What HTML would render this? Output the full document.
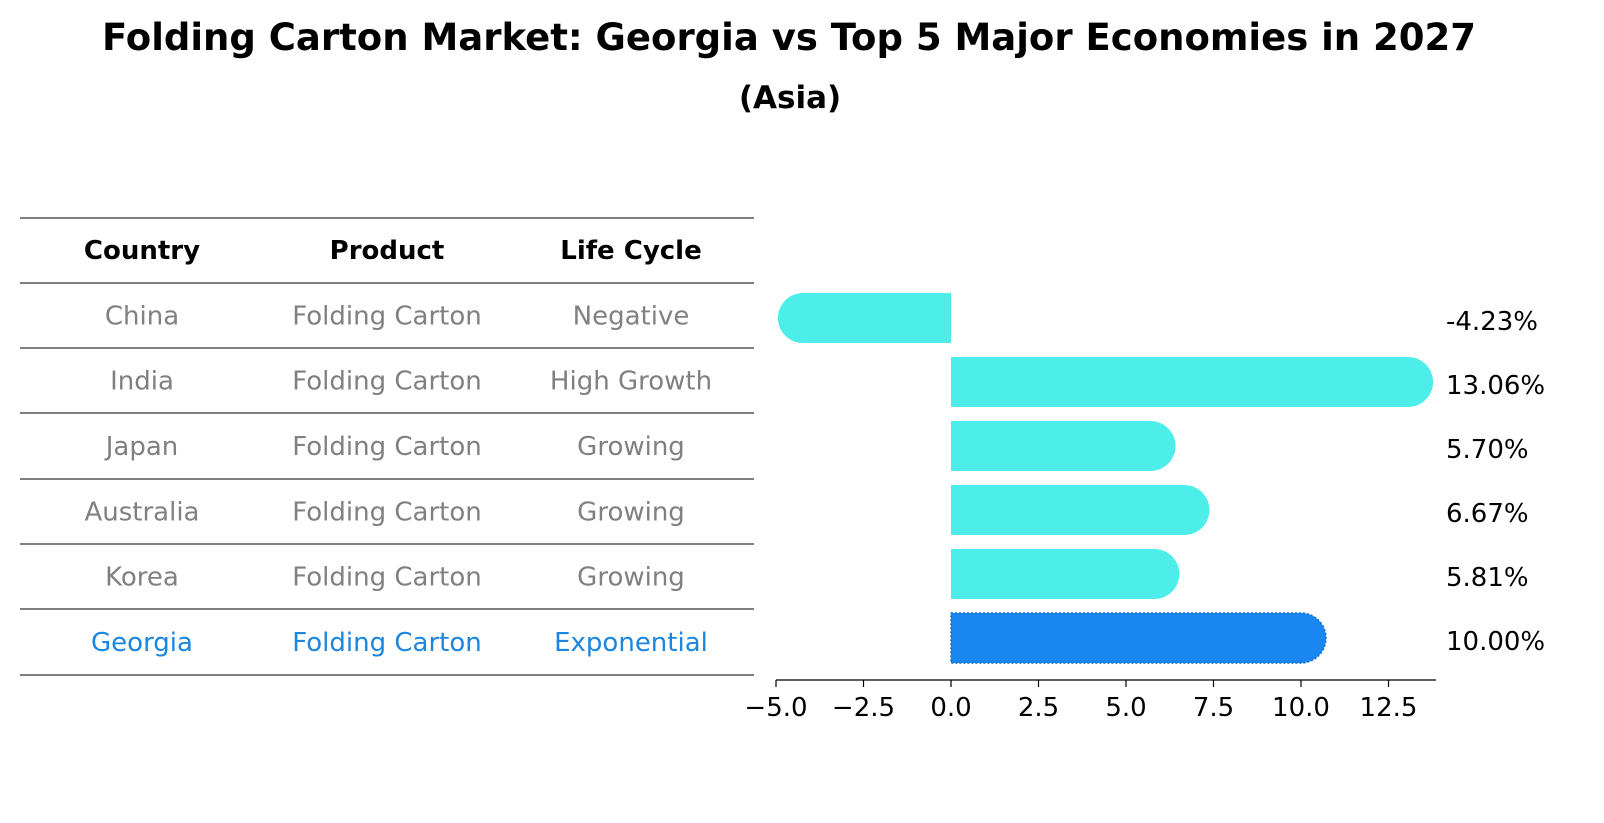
<!DOCTYPE html>
<html><head><meta charset="utf-8"><style>
body{margin:0;background:#fff;font-family:"DejaVu Sans","Liberation Sans",sans-serif;}
svg{display:block}
</style></head><body>
<svg width="1604" height="823" font-family="DejaVu Sans, Liberation Sans, sans-serif">
<text x="789" y="50" text-anchor="middle" font-size="37" font-weight="bold">Folding Carton Market: Georgia vs Top 5 Major Economies in 2027</text>
<text x="790" y="108" text-anchor="middle" font-size="31" font-weight="bold">(Asia)</text>
<g id="table"></g>
<g id="bars"></g>
<g id="axis"></g>
</svg>
<script>
const countries=["China","India","Japan","Australia","Korea","Georgia"];
const products=["Folding Carton","Folding Carton","Folding Carton","Folding Carton","Folding Carton","Folding Carton"];
const lifeCycles=["Negative","High Growth","Growing","Growing","Growing","Exponential"];
const growth=[-4.23,13.06,5.70,6.67,5.81,10.00];
const ticks=[-5.0,-2.5,0.0,2.5,5.0,7.5,10.0,12.5];
const NS="http://www.w3.org/2000/svg";
function mk(t,a,p){const e=document.createElementNS(NS,t);for(const k in a)e.setAttribute(k,a[k]);p.appendChild(e);return e;}
const xs=v=>951+v*35;
const rowY=i=>318+i*64;
const table=document.getElementById('table');
const lineYs=[218,283,348,413,479,544,609,675];
lineYs.forEach((y,i)=>{const l=mk('line',{x1:20,x2:754,y1:y,y2:y,stroke:'#000','stroke-width':1},table);

});
const cols=[142,387,631];
["Country","Product","Life Cycle"].forEach((h,j)=>{const t=mk('text',{x:cols[j],y:259,'text-anchor':'middle','font-size':26,'font-weight':'bold'},table);t.textContent=h;

});
countries.forEach((c,i)=>{const y=(lineYs[i+1]+lineYs[i+2])/2+9;const col=i===5?'#1a86e0':'#808080';
[c,products[i],lifeCycles[i]].forEach((v,j)=>{const t=mk('text',{x:cols[j],y:y,'text-anchor':'middle','font-size':26,fill:col},table);t.textContent=v;

});});
const bars=document.getElementById('bars');
const h=50,r=25;
growth.forEach((v,i)=>{const cy=rowY(i),y0=cy-h/2,x0=xs(0),x1=xs(v);const dir=v>=0?1:-1;
const d=`M${x0},${y0} L${x1},${y0} A${r},${r} 0 0 ${dir>0?1:0} ${x1},${y0+h} L${x0},${y0+h} Z`;
const p=mk('path',{d:d,fill:i===5?'#1a86f0':'#4deeea'},bars);
if(i===5){p.setAttribute('stroke','#0a6fd8');p.setAttribute('stroke-dasharray','2,2');p.setAttribute('stroke-width','1.5');}


const t=mk('text',{x:1446,y:cy+12,'font-size':26},bars);t.textContent=v.toFixed(2)+'%';

});
const ax=document.getElementById('axis');
mk('line',{x1:776,x2:1436,y1:680,y2:680,stroke:'#000','stroke-width':1.2},ax);
ticks.forEach(tv=>{const x=xs(tv);mk('line',{x1:x,x2:x,y1:680,y2:687,stroke:'#000','stroke-width':1.2},ax);
const t=mk('text',{x:x,y:716,'text-anchor':'middle','font-size':26},ax);t.textContent=(tv<0?'\u2212':'')+Math.abs(tv).toFixed(1);

});
</script>
</body></html>
